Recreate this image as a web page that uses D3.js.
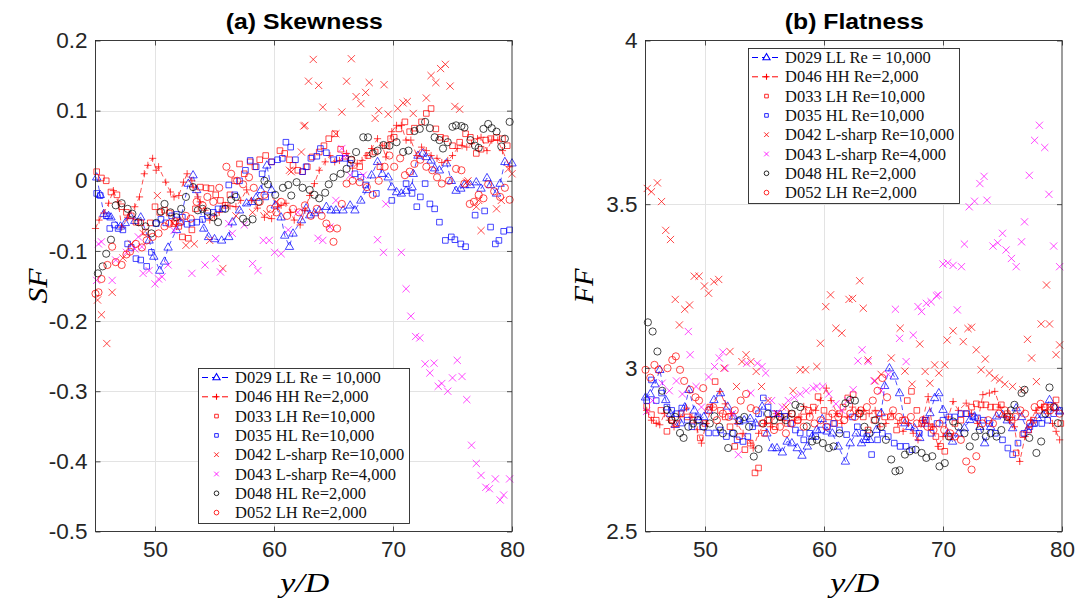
<!DOCTYPE html>
<html>
<head>
<meta charset="utf-8">
<script src="https://cdn.jsdelivr.net/npm/d3@7"></script>
<style>
  body { margin: 0; background: #fff; }
  svg { display: block; }
</style>
</head>
<body>
<svg id="fig" width="1079" height="606"></svg>
<script>
// ---- data -------------------------------------------------------------
const yDDomain = [45, 80];
const yDTicks = [50, 60, 70, 80];
const skewDomain = [-0.5, 0.2];
const skewTicks = [-0.5, -0.4, -0.3, -0.2, -0.1, 0, 0.1, 0.2];
const flatDomain = [2.5, 4];
const flatTicks = [2.5, 3, 3.5, 4];

const runLabels = [
  "D029 LL Re = 10,000",
  "D046 HH Re=2,000",
  "D033 LH Re=10,000",
  "D035 HL Re=10,000",
  "D042 L-sharp Re=10,000",
  "D043 L-sharp Re=4,000",
  "D048 HL Re=2,000",
  "D052 LH Re=2,000"
];

// skewness SF against y/D, one [y/D, SF] pair per station
const d029Skew = [[45.1,0.005],[45.4,-0.02],[45.7,-0.047],[46.1,-0.05],[46.3,-0.052],[47.1,-0.065],[47.5,-0.06],[47.9,-0.05],[48.3,-0.057],[48.8,-0.052],[49.5,-0.085],[49.9,-0.108],[50.4,-0.128],[50.8,-0.115],[51.1,-0.095],[51.8,-0.07],[52.1,-0.059],[52.8,-0.004],[53.2,0.008],[53.5,-0.013],[54.1,-0.068],[54.5,-0.08],[55.0,-0.083],[55.6,-0.085],[56.2,-0.08],[56.5,-0.059],[57.1,-0.042],[57.7,-0.032],[58.1,-0.03],[58.5,-0.024],[58.9,-0.013],[59.4,0.022],[59.8,-0.013],[60.1,-0.035],[60.6,-0.052],[60.9,-0.078],[61.3,-0.094],[61.6,-0.075],[62.3,-0.056],[62.7,-0.039],[63.0,-0.049],[63.4,-0.046],[63.8,-0.042],[64.4,-0.037],[64.8,-0.042],[65.2,-0.042],[65.8,-0.042],[66.4,-0.035],[66.8,-0.042],[67.3,-0.028],[67.8,-0.013],[68.2,0.008],[68.7,0.027],[69.1,0.01],[69.6,0.005],[69.9,-0.009],[70.3,-0.016],[70.7,-0.018],[71.1,-0.014],[71.6,-0.009],[71.7,0.01],[72.1,0.036],[72.5,0.039],[72.8,0.034],[73.2,0.029],[73.5,0.018],[73.9,0.015],[74.5,0.025],[74.9,0.0],[75.3,-0.014],[75.7,-0.011],[76.0,-0.006],[76.5,-0.006],[77.0,-0.002],[77.4,-0.011],[77.9,0.004],[78.2,-0.006],[78.7,-0.018],[79.0,-0.004],[79.4,0.027],[80.0,0.025]];
const d046Skew = [[45.0,-0.068],[45.3,-0.056],[45.7,-0.046],[46.1,-0.032],[46.5,-0.014],[46.9,-0.03],[47.2,-0.066],[47.7,-0.052],[48.3,-0.037],[48.7,-0.023],[49.1,0.01],[49.4,0.022],[49.8,0.032],[50.1,0.015],[50.3,0.02],[50.9,-0.002],[51.3,-0.016],[51.6,-0.023],[52.0,-0.021],[52.4,-0.002],[52.7,0.01],[53.1,0.0],[53.2,-0.009],[53.6,-0.023],[53.8,-0.03],[54.2,-0.042],[54.6,-0.056],[55.0,-0.05],[55.4,-0.045],[55.9,-0.035],[56.3,-0.036],[56.8,-0.037],[57.2,-0.028],[57.7,-0.013],[58.1,-0.028],[58.6,-0.039],[59.2,-0.052],[59.8,-0.054],[60.3,-0.037],[60.6,-0.035],[61.0,-0.032],[61.4,-0.045],[61.7,-0.056],[62.2,-0.063],[62.6,-0.042],[63.0,-0.021],[63.4,-0.004],[63.8,0.015],[64.3,0.027],[64.7,0.036],[65.1,0.027],[65.5,0.029],[66.1,0.039],[66.6,0.018],[67.0,0.025],[67.4,0.029],[67.8,0.036],[68.2,0.046],[68.7,0.06],[69.1,0.05],[69.4,0.034],[69.9,0.07],[70.3,0.079],[70.7,0.079],[71.1,0.058],[71.5,0.058],[72.0,0.036],[72.4,0.048],[72.8,0.043],[73.2,0.036],[73.7,0.032],[74.1,0.026],[74.6,0.029],[75.0,0.036],[75.4,0.046],[75.8,0.05],[76.2,0.048],[76.6,0.053],[77.1,0.06],[77.4,0.062],[77.9,0.043],[78.3,0.058],[78.8,0.058],[79.2,0.043],[79.8,0.02]];
const d033Skew = [[45.1,0.013],[45.5,0.004],[45.9,0.0],[46.3,-0.016],[46.8,-0.02],[47.2,-0.037],[47.6,-0.045],[48.0,-0.05],[48.4,-0.059],[48.8,-0.06],[49.2,-0.073],[49.6,-0.06],[50.0,-0.037],[50.4,-0.045],[50.8,-0.042],[51.2,-0.046],[51.6,-0.061],[52.0,-0.065],[52.3,-0.08],[52.8,-0.082],[53.1,-0.07],[53.4,-0.04],[53.8,-0.009],[54.3,-0.01],[54.7,-0.011],[55.1,-0.02],[55.5,-0.028],[55.9,-0.035],[56.3,-0.02],[56.7,0.0],[57.1,0.024],[57.5,0.01],[58.0,0.027],[58.4,0.02],[58.8,0.03],[59.3,0.036],[59.8,0.027],[60.5,0.043],[60.9,0.039],[61.3,0.03],[61.6,0.022],[62.0,0.015],[62.4,0.013],[62.8,0.02],[63.2,0.034],[63.8,0.041],[64.2,0.05],[64.6,0.06],[65.1,0.067],[65.6,0.045],[66.0,0.035],[66.5,0.03],[67.2,0.02],[67.9,0.036],[68.5,0.041],[68.9,0.02],[69.5,0.05],[69.8,0.06],[70.1,0.062],[70.5,0.074],[71.0,0.084],[71.4,0.07],[71.8,0.075],[72.4,0.084],[72.8,0.096],[73.2,0.103],[73.6,0.074],[74.0,0.062],[74.4,0.06],[75.0,0.05],[75.6,0.055],[76.1,0.067],[76.5,0.062],[77.0,0.039],[77.4,0.045],[77.8,0.058],[78.2,0.06],[78.7,0.062],[79.2,0.06],[79.6,0.05]];
const d035Skew = [[45.1,-0.018],[45.4,-0.021],[45.9,-0.05],[46.2,-0.068],[46.6,-0.063],[46.9,-0.068],[47.3,-0.07],[47.7,-0.09],[48.0,-0.095],[48.4,-0.111],[48.8,-0.113],[49.3,-0.122],[49.7,-0.102],[50.1,-0.061],[50.5,-0.055],[50.9,-0.06],[51.4,-0.05],[51.8,-0.048],[52.3,-0.052],[52.7,-0.062],[53.1,-0.06],[53.5,-0.059],[54.0,-0.055],[54.4,-0.05],[54.9,-0.045],[55.3,-0.04],[55.7,-0.04],[56.2,-0.006],[56.7,-0.02],[57.1,0.0],[57.6,0.015],[58.0,0.029],[58.5,0.02],[59.0,0.01],[59.3,-0.023],[59.8,0.027],[60.3,0.03],[60.7,0.032],[61.0,0.055],[61.4,0.048],[61.8,0.03],[62.4,0.013],[62.7,0.02],[63.1,0.032],[63.6,0.035],[63.9,0.046],[64.4,0.04],[65.0,0.03],[65.5,0.032],[66.0,0.032],[66.4,0.025],[66.8,0.01],[67.3,0.005],[67.7,-0.006],[68.6,-0.018],[69.9,-0.028],[71.1,-0.004],[71.6,-0.018],[72.0,-0.037],[72.3,-0.023],[72.7,-0.004],[73.1,-0.033],[73.5,-0.04],[73.9,-0.059],[74.4,-0.085],[74.9,-0.08],[75.2,-0.084],[75.7,-0.09],[76.1,-0.094],[76.9,-0.049],[77.7,-0.043],[78.2,-0.066],[78.6,-0.09],[78.9,-0.085],[79.3,-0.072],[79.8,-0.07]];
const d042Skew = [[45.17,-0.17],[45.5,-0.191],[45.95,-0.232],[46.4,-0.159],[47.3,-0.11],[48.0,-0.09],[49.0,-0.075],[50.2,-0.021],[51.5,-0.06],[52.6,-0.092],[53.3,-0.09],[54.6,-0.085],[55.7,-0.125],[56.8,-0.05],[58.2,-0.045],[59.4,-0.047],[60.2,-0.03],[61.3,0.015],[61.45,0.013],[62.3,0.041],[62.5,0.078],[62.6,0.079],[62.9,0.142],[63.3,0.173],[63.75,0.136],[64.1,0.105],[65.2,0.067],[65.7,0.098],[66.1,0.142],[66.5,0.174],[66.9,0.12],[67.3,0.11],[67.7,0.126],[68.0,0.14],[68.5,0.089],[68.8,0.1],[69.25,0.137],[69.6,0.095],[70.4,0.103],[70.85,0.111],[71.2,0.113],[71.7,0.096],[72.8,0.118],[73.2,0.15],[73.6,0.14],[74.0,0.16],[74.4,0.166],[74.8,0.135],[75.2,0.106],[75.6,0.102],[76.2,-0.002],[76.3,0.0],[77.0,-0.037],[77.2,-0.028],[77.4,-0.071],[78.7,-0.04],[79.1,-0.028],[79.7,0.017],[80.0,0.01]];
const d043Skew = [[45.1,-0.142],[45.25,-0.09],[45.5,-0.087],[46.4,-0.142],[46.7,-0.113],[47.6,-0.102],[48.3,-0.097],[48.6,-0.08],[48.9,-0.094],[49.0,-0.132],[49.5,-0.128],[50.0,-0.147],[50.3,-0.14],[50.6,-0.137],[51.1,-0.12],[51.6,-0.071],[53.1,-0.132],[54.2,-0.12],[55.1,-0.111],[55.5,-0.13],[56.2,-0.061],[56.5,-0.075],[57.5,-0.063],[58.2,-0.118],[58.65,-0.128],[59.1,-0.085],[59.6,-0.085],[60.05,-0.102],[60.6,-0.104],[61.2,-0.07],[62.0,-0.045],[63.7,-0.082],[64.1,-0.085],[64.7,-0.066],[65.2,-0.028],[65.7,0.046],[65.9,0.035],[66.4,0.008],[67.5,0.008],[68.7,-0.084],[69.2,-0.102],[69.4,-0.033],[70.7,-0.102],[71.1,-0.154],[71.5,-0.193],[71.9,-0.222],[72.25,-0.224],[72.7,-0.261],[73.1,-0.274],[73.45,-0.26],[73.8,-0.293],[74.1,-0.289],[74.6,-0.3],[75.0,-0.281],[75.4,-0.256],[75.8,-0.279],[76.2,-0.312],[76.6,-0.377],[77.0,-0.403],[77.4,-0.42],[77.8,-0.437],[78.1,-0.439],[78.6,-0.425],[79.0,-0.455],[79.3,-0.448],[79.8,-0.425]];
const d048Skew = [[45.2,-0.132],[45.6,-0.122],[45.9,-0.104],[46.3,-0.084],[46.7,-0.035],[47.2,-0.032],[47.7,-0.04],[48.1,-0.047],[48.6,-0.059],[49.2,-0.065],[49.7,-0.075],[50.1,-0.06],[50.5,-0.044],[50.8,-0.033],[51.3,-0.045],[51.8,-0.052],[52.2,-0.04],[52.6,-0.023],[53.2,-0.009],[53.6,-0.042],[54.0,-0.04],[54.4,-0.044],[54.9,-0.052],[55.3,-0.059],[55.9,-0.04],[56.4,-0.027],[56.8,-0.023],[57.4,-0.054],[57.7,-0.059],[58.2,-0.055],[58.7,-0.03],[59.2,0.0],[59.5,-0.005],[60.1,-0.02],[60.75,-0.01],[61.2,-0.006],[61.45,-0.021],[61.9,-0.002],[62.4,-0.01],[63.0,-0.013],[63.4,-0.02],[63.8,-0.025],[64.3,-0.017],[64.6,-0.005],[65.0,0.005],[65.6,0.01],[66.1,0.017],[66.5,0.03],[66.9,0.041],[67.5,0.062],[67.9,0.062],[68.3,0.039],[68.7,0.043],[69.2,0.051],[69.7,0.05],[70.3,0.055],[70.85,0.041],[71.3,0.043],[71.8,0.071],[72.25,0.074],[72.7,0.084],[73.1,0.075],[73.5,0.062],[73.9,0.058],[74.2,0.046],[74.6,0.055],[75.0,0.077],[75.3,0.079],[75.75,0.078],[76.0,0.076],[76.5,0.058],[76.9,0.05],[77.2,0.047],[77.6,0.074],[78.0,0.081],[78.3,0.075],[78.7,0.07],[79.1,0.049],[79.4,0.06],[79.8,0.084]];
const d052Skew = [[45.0,-0.161],[45.25,-0.159],[45.5,-0.14],[46.0,-0.12],[46.4,-0.094],[46.7,-0.116],[47.2,-0.12],[47.6,-0.105],[47.9,-0.101],[48.4,-0.09],[48.9,-0.095],[49.3,-0.085],[49.8,-0.08],[50.3,-0.075],[50.8,-0.065],[51.2,-0.061],[51.7,-0.058],[52.1,-0.059],[52.6,-0.05],[53.0,-0.054],[53.5,-0.03],[54.0,-0.035],[54.4,-0.023],[54.9,-0.03],[55.4,-0.01],[56.0,0.02],[56.4,0.01],[56.9,0.0],[57.4,-0.005],[57.9,0.005],[58.3,-0.01],[58.8,-0.03],[59.2,-0.02],[59.7,-0.04],[60.2,-0.045],[60.6,-0.03],[61.1,-0.05],[61.6,-0.04],[62.1,-0.045],[62.6,-0.035],[63.1,-0.05],[63.6,-0.04],[64.0,-0.05],[64.4,-0.061],[64.7,-0.068],[65.0,-0.087],[65.3,-0.068],[65.7,-0.033],[66.1,-0.004],[66.6,0.0],[67.2,-0.002],[67.8,-0.009],[68.3,-0.02],[68.8,0.0],[69.3,0.02],[69.7,0.036],[70.1,0.02],[70.6,0.032],[71.0,0.008],[71.4,0.013],[71.8,0.024],[72.3,0.03],[72.8,0.02],[73.3,0.015],[73.7,0.005],[74.1,-0.004],[74.7,0.0],[75.3,0.017],[75.75,0.015],[76.0,-0.004],[76.45,-0.033],[76.8,-0.03],[77.2,-0.02],[77.6,-0.025],[78.0,-0.005],[78.5,-0.015],[79.0,-0.023],[79.4,-0.01],[79.8,-0.027]];

// flatness FF against y/D
const d029Flat = [[45.0,2.91],[45.4,2.92],[45.8,2.95],[46.2,2.994],[46.7,2.902],[47.1,2.86],[47.5,2.826],[47.95,2.831],[48.3,2.88],[48.65,2.933],[49.1,2.87],[49.5,2.841],[49.9,2.85],[50.3,2.87],[50.75,2.902],[51.3,2.923],[51.9,2.882],[52.4,2.852],[52.85,2.836],[53.3,2.84],[53.8,2.845],[54.25,2.831],[54.8,2.882],[55.2,2.8],[55.65,2.755],[56.05,2.755],[56.5,2.742],[56.9,2.775],[57.3,2.77],[57.75,2.755],[58.15,2.732],[58.6,2.76],[59.0,2.79],[59.4,2.811],[59.85,2.844],[60.25,2.806],[60.7,2.8],[61.2,2.76],[61.8,2.714],[62.2,2.77],[62.7,2.8],[63.15,2.77],[63.5,2.78],[63.85,2.78],[64.4,2.811],[64.8,2.862],[65.1,2.945],[65.5,2.999],[65.9,2.974],[66.35,2.923],[66.8,2.831],[67.2,2.82],[67.6,2.816],[68.05,2.786],[68.5,2.83],[68.9,2.862],[69.3,2.908],[69.65,2.923],[70.0,2.872],[70.4,2.8],[70.8,2.775],[71.3,2.8],[71.8,2.816],[72.25,2.841],[72.65,2.852],[73.1,2.82],[73.5,2.77],[74.0,2.82],[74.5,2.852],[75.0,2.857],[75.4,2.84],[75.85,2.816],[76.15,2.877],[76.6,2.85],[77.1,2.811],[77.5,2.83],[77.95,2.847],[78.4,2.857],[78.95,2.902],[79.4,2.88],[79.8,2.867]];
const d046Flat = [[45.1,2.87],[45.5,2.84],[45.9,2.83],[46.2,2.826],[46.6,2.86],[47.0,2.84],[47.4,2.82],[47.9,2.85],[48.45,2.877],[48.9,2.85],[49.35,2.811],[49.7,2.77],[50.1,2.83],[50.6,2.88],[51.25,2.928],[51.7,2.89],[52.2,2.86],[52.7,2.83],[53.2,2.8],[53.85,2.77],[54.05,2.755],[54.5,2.8],[55.0,2.83],[55.5,2.82],[56.0,2.86],[56.5,2.84],[57.0,2.86],[57.5,2.84],[57.9,2.85],[58.3,2.882],[58.8,2.86],[59.3,2.87],[59.7,2.9],[60.2,2.938],[60.6,2.9],[61.1,2.86],[61.5,2.83],[62.0,2.85],[62.4,2.88],[62.9,2.87],[63.3,2.87],[63.8,2.86],[64.3,2.87],[64.7,2.82],[65.2,2.83],[65.7,2.86],[66.2,2.83],[66.65,2.806],[67.1,2.83],[67.5,2.8],[67.9,2.78],[68.3,2.84],[68.75,2.912],[69.1,2.82],[69.6,2.76],[70.0,2.79],[70.45,2.85],[70.85,2.897],[71.3,2.87],[71.95,2.892],[72.4,2.86],[72.9,2.83],[73.35,2.918],[73.9,2.923],[74.35,2.928],[74.8,2.88],[75.2,2.85],[75.6,2.84],[76.0,2.82],[76.45,2.714],[76.9,2.79],[77.4,2.84],[77.8,2.87],[78.3,2.88],[78.8,2.86],[79.2,2.83],[79.5,2.806],[79.8,2.78]];
const d033Flat = [[45.1,2.882],[45.5,2.857],[45.9,2.84],[46.3,2.87],[46.8,2.806],[47.2,2.84],[47.6,2.83],[48.0,2.86],[48.5,2.85],[49.0,2.84],[49.6,2.786],[50.0,2.83],[50.4,2.88],[50.85,2.958],[51.3,2.87],[51.7,2.85],[52.1,2.82],[52.5,2.76],[52.9,2.79],[53.35,2.75],[53.8,2.77],[54.2,2.679],[54.5,2.694],[55.0,2.8],[55.4,2.84],[55.9,2.82],[56.4,2.85],[56.9,2.83],[57.3,2.86],[57.8,2.84],[58.3,2.85],[58.7,2.87],[59.1,2.88],[59.5,2.912],[60.0,2.87],[60.4,2.85],[60.9,2.83],[61.3,2.86],[61.6,2.88],[62.0,2.908],[62.45,2.918],[62.9,2.86],[63.3,2.85],[63.7,2.81],[64.2,2.84],[64.6,2.86],[65.1,2.85],[65.6,2.85],[66.1,2.81],[66.6,2.84],[67.0,2.9],[67.35,2.928],[67.8,2.87],[68.2,2.83],[68.6,2.84],[69.0,2.82],[69.4,2.79],[69.8,2.76],[70.15,2.745],[70.6,2.79],[71.0,2.83],[71.5,2.84],[71.9,2.86],[72.4,2.88],[72.8,2.89],[73.2,2.887],[73.6,2.887],[74.0,2.88],[74.4,2.88],[74.9,2.887],[75.4,2.86],[75.8,2.84],[76.15,2.74],[76.7,2.796],[77.2,2.81],[77.6,2.84],[78.1,2.87],[78.5,2.88],[79.0,2.88],[79.5,2.902],[79.9,2.83]];
const d035Flat = [[45.1,2.9],[45.5,2.963],[45.9,2.9],[46.35,2.923],[46.8,2.88],[47.2,2.87],[47.6,2.86],[48.05,2.877],[48.5,2.84],[48.9,2.82],[49.4,2.85],[49.8,2.82],[50.3,2.801],[50.9,2.801],[51.3,2.81],[51.8,2.79],[52.3,2.8],[52.7,2.78],[53.2,2.775],[53.6,2.79],[54.0,2.82],[54.5,2.86],[54.9,2.908],[55.3,2.88],[55.7,2.86],[56.2,2.86],[56.7,2.852],[57.2,2.83],[57.6,2.81],[58.0,2.801],[58.3,2.78],[58.8,2.8],[59.3,2.79],[59.8,2.81],[60.3,2.82],[60.8,2.83],[61.3,2.81],[61.9,2.796],[62.4,2.85],[62.8,2.82],[63.3,2.8],[63.6,2.79],[64.0,2.735],[64.5,2.78],[64.9,2.8],[65.4,2.79],[65.9,2.77],[66.4,2.76],[66.9,2.76],[67.4,2.75],[68.0,2.8],[68.5,2.84],[69.0,2.8],[69.5,2.83],[70.0,2.84],[70.5,2.85],[71.0,2.85],[71.5,2.86],[72.0,2.86],[72.5,2.85],[72.9,2.847],[73.4,2.84],[73.9,2.83],[74.4,2.8],[75.0,2.78],[75.45,2.755],[75.85,2.735],[76.3,2.77],[76.8,2.8],[77.3,2.82],[77.7,2.83],[78.3,2.83],[78.8,2.84],[79.3,2.86],[79.8,2.87]];
const d042Flat = [[45.15,3.548],[45.5,3.538],[46.0,3.565],[46.35,3.508],[46.7,3.42],[47.1,3.392],[47.5,3.209],[47.85,3.131],[48.3,3.179],[48.7,3.192],[49.1,3.28],[49.5,3.28],[49.95,3.25],[50.3,3.228],[50.75,3.263],[51.15,3.27],[51.6,2.999],[52.1,3.05],[52.65,2.943],[53.1,3.019],[53.45,3.04],[53.85,3.019],[54.3,2.989],[54.75,2.943],[55.3,2.9],[56.1,2.86],[56.8,2.88],[57.4,2.93],[58.0,2.994],[58.45,2.994],[59.4,3.004],[59.7,3.075],[60.15,3.187],[60.55,3.223],[61.0,3.121],[61.5,3.106],[62.1,3.209],[62.4,3.212],[63.0,3.266],[63.3,3.182],[63.7,3.024],[64.3,2.96],[64.8,2.98],[65.65,3.03],[66.4,3.121],[66.8,2.99],[67.4,2.95],[68.05,3.073],[68.5,2.989],[68.9,2.953],[69.3,3.009],[69.65,2.984],[70.15,3.009],[70.35,3.085],[70.85,3.113],[71.7,3.08],[72.1,3.12],[72.4,3.124],[72.8,3.055],[73.2,2.994],[73.55,3.027],[73.9,2.984],[74.35,2.969],[74.75,2.963],[75.2,2.95],[75.85,2.943],[76.7,2.933],[77.1,3.087],[77.45,3.03],[77.85,2.958],[78.25,3.134],[78.7,3.253],[78.95,3.134],[79.5,3.04],[79.8,3.07]];
const d043Flat = [[45.1,2.867],[45.6,2.9],[46.4,2.953],[47.0,2.93],[47.6,2.96],[48.1,2.92],[48.6,3.111],[48.75,3.04],[49.25,2.943],[49.7,2.88],[50.3,2.972],[50.8,3.004],[51.2,3.03],[51.5,3.048],[51.7,2.999],[52.3,2.86],[52.8,2.735],[53.5,3.014],[53.85,2.923],[54.4,3.014],[54.8,3.004],[55.1,2.984],[55.6,2.9],[56.0,2.86],[56.5,2.88],[57.0,2.9],[57.5,2.91],[58.0,2.92],[58.5,2.93],[59.1,2.938],[59.4,2.943],[59.9,2.943],[60.4,2.92],[61.0,2.89],[61.5,2.87],[62.0,2.9],[62.45,2.933],[62.85,3.021],[63.2,3.055],[63.7,3.019],[64.2,2.96],[64.8,2.93],[65.4,2.98],[66.0,3.179],[66.35,3.09],[66.9,3.019],[67.5,3.1],[67.9,3.187],[68.2,3.172],[68.6,3.197],[69.0,3.202],[69.45,3.22],[69.6,3.223],[70.0,3.317],[70.4,3.321],[70.85,3.313],[71.2,3.177],[71.55,3.309],[71.8,3.378],[72.2,3.492],[72.65,3.509],[73.1,3.563],[73.45,3.585],[73.7,3.512],[74.2,3.372],[74.6,3.382],[75.0,3.411],[75.3,3.36],[75.75,3.334],[76.15,3.309],[76.6,3.385],[76.85,3.446],[77.25,3.588],[77.7,3.695],[78.1,3.741],[78.55,3.673],[78.9,3.53],[79.3,3.372],[79.8,3.309]];
const d048Flat = [[45.2,3.139],[45.6,3.111],[46.0,3.05],[46.4,2.93],[46.8,2.872],[47.2,2.84],[47.5,2.85],[47.9,2.801],[48.2,2.786],[48.6,2.82],[49.0,2.83],[49.4,2.84],[49.9,2.82],[50.4,2.83],[50.8,2.852],[51.2,2.82],[51.5,2.8],[51.95,2.755],[52.4,2.8],[52.9,2.84],[53.3,2.85],[53.7,2.82],[54.1,2.729],[54.5,2.752],[54.9,2.83],[55.3,2.86],[55.8,2.84],[56.3,2.85],[56.8,2.84],[57.3,2.86],[57.6,2.887],[58.0,2.88],[58.55,2.821],[59.0,2.775],[59.4,2.78],[59.9,2.77],[60.4,2.755],[60.8,2.76],[61.3,2.8],[61.8,2.892],[62.2,2.902],[62.6,2.9],[63.0,2.86],[63.4,2.82],[63.8,2.8],[64.3,2.84],[64.8,2.82],[65.2,2.78],[65.65,2.72],[66.0,2.684],[66.35,2.687],[66.8,2.735],[67.2,2.745],[67.7,2.75],[68.2,2.74],[68.6,2.725],[69.1,2.73],[69.7,2.699],[70.15,2.709],[70.5,2.79],[70.85,2.836],[71.3,2.82],[71.8,2.8],[72.25,2.76],[72.7,2.79],[73.1,2.81],[73.6,2.79],[74.0,2.8],[74.5,2.79],[74.9,2.81],[75.4,2.85],[75.7,2.87],[76.0,2.887],[76.6,2.923],[76.85,2.933],[77.25,2.786],[77.85,2.74],[78.25,2.775],[78.6,2.86],[78.95,2.94],[79.3,2.88],[79.65,2.831]];
const d052Flat = [[45.0,2.994],[45.4,2.97],[45.75,3.009],[46.1,2.994],[46.85,2.999],[47.25,3.024],[47.55,3.035],[47.9,2.994],[48.25,2.96],[48.75,2.933],[49.2,2.91],[49.5,2.9],[49.85,2.938],[50.3,2.87],[50.7,2.88],[51.0,2.84],[51.5,2.86],[52.0,2.85],[52.5,2.87],[53.0,2.9],[53.45,2.92],[53.85,2.877],[54.3,2.87],[54.8,2.83],[55.3,2.84],[55.8,2.81],[56.3,2.82],[56.8,2.8],[57.3,2.83],[57.8,2.84],[58.3,2.82],[58.8,2.85],[59.2,2.83],[59.7,2.84],[60.2,2.82],[60.7,2.86],[61.2,2.85],[61.7,2.84],[62.2,2.86],[62.6,2.85],[63.1,2.87],[63.6,2.88],[64.1,2.9],[64.5,2.93],[64.9,2.969],[65.3,2.91],[65.8,2.87],[66.3,2.85],[66.8,2.84],[67.3,2.85],[67.8,2.83],[68.3,2.84],[68.7,2.82],[69.2,2.81],[69.7,2.83],[70.1,2.81],[70.6,2.8],[71.0,2.79],[71.5,2.78],[71.95,2.714],[72.4,2.689],[72.8,2.73],[73.3,2.83],[73.8,2.84],[74.2,2.83],[74.7,2.86],[75.2,2.87],[75.6,2.85],[76.1,2.85],[76.5,2.87],[76.9,2.86],[77.3,2.83],[77.7,2.88],[78.2,2.89],[78.6,2.88],[79.0,2.87],[79.4,2.88],[79.8,2.86]];

// ---- styling of the eight runs (plot order = legend order) ------------
const runStyles = [
  { color: "#0000ff", marker: "triangle", dashed: true },
  { color: "#ff0000", marker: "plus",     dashed: true },
  { color: "#ff0000", marker: "square" },
  { color: "#0000ff", marker: "square" },
  { color: "#ff0000", marker: "cross" },
  { color: "#ff00ff", marker: "cross" },
  { color: "#000000", marker: "circle" },
  { color: "#ff0000", marker: "circle" }
];

const markerPaths = {
  triangle: "M0,-4.6L4.2,2.7L-4.2,2.7Z",
  plus: "M-3.6,0H3.6M0,-3.6V3.6",
  square: "M-2.8,-2.8H2.8V2.8H-2.8Z",
  cross: "M-3.6,-3.6L3.6,3.6M-3.6,3.6L3.6,-3.6",
  circle: "M3.6,0A3.6,3.6 0 1,1 -3.6,0A3.6,3.6 0 1,1 3.6,0Z"
};

const panels = [
  {
    title: "(a) Skewness", titleWidth: 157, ylab: "SF", ylabX: 38,
    left: 95.5, right: 512, top: 40.5, bottom: 531.5,
    yDomain: skewDomain, yTicks: skewTicks,
    runs: [d029Skew, d046Skew, d033Skew, d035Skew, d042Skew, d043Skew, d048Skew, d052Skew],
    legend: { x: 198, y: 368, w: 211, h: 155 }
  },
  {
    title: "(b) Flatness", titleWidth: 139, ylab: "FF", ylabX: 584,
    left: 645.5, right: 1062, top: 40.5, bottom: 531.5,
    yDomain: flatDomain, yTicks: flatTicks,
    runs: [d029Flat, d046Flat, d033Flat, d035Flat, d042Flat, d043Flat, d048Flat, d052Flat],
    legend: { x: 748, y: 48, w: 211, h: 155 }
  }
];

// ---- drawing ------------------------------------------------------------
const svg = d3.select("#fig");
const axisColor = "#262626";
const tickFont = "'Liberation Sans', Arial, Helvetica, sans-serif";
const mathFont = "'Liberation Serif', 'Times New Roman', serif";

panels.forEach(p => {
  const x = d3.scaleLinear().domain(yDDomain).range([p.left, p.right]);
  const y = d3.scaleLinear().domain(p.yDomain).range([p.bottom, p.top]);
  const w = p.right - p.left, h = p.bottom - p.top;
  const g = svg.append("g");

  // grid
  const grid = g.append("g").attr("stroke", "#e3e3e3").attr("stroke-width", 1);
  grid.selectAll("line.gx").data(yDTicks.filter(t => t > yDDomain[0] && t < yDDomain[1]))
    .join("line").attr("x1", d => Math.round(x(d)) + 0.5).attr("x2", d => Math.round(x(d)) + 0.5)
    .attr("y1", p.top).attr("y2", p.bottom);
  grid.selectAll("line.gy").data(p.yTicks.filter(t => t > p.yDomain[0] && t < p.yDomain[1]))
    .join("line").attr("y1", d => Math.round(y(d)) + 0.5).attr("y2", d => Math.round(y(d)) + 0.5)
    .attr("x1", p.left).attr("x2", p.right);

  // data
  p.runs.forEach((run, i) => {
    const st = runStyles[i];
    const sg = g.append("g").attr("stroke", st.color).attr("fill", "none");
    if (st.dashed) {
      sg.append("path")
        .attr("d", d3.line().x(d => x(d[0])).y(d => y(d[1]))(run))
        .attr("stroke-width", 0.8)
        .attr("stroke-dasharray", "5,3.5")
        .attr("stroke-opacity", 0.85);
    }
    sg.selectAll("path.m").data(run).join("path")
      .attr("class", "m")
      .attr("d", markerPaths[st.marker])
      .attr("transform", d => `translate(${x(d[0])},${y(d[1])})`)
      .attr("stroke-width", 0.9)
      .attr("stroke-opacity", 0.8);
  });

  // axes with inward ticks on all four sides
  const fmt = d => String(d);
  const axB = g.append("g").attr("transform", `translate(0,${p.bottom})`)
    .call(d3.axisBottom(x).tickValues(yDTicks).tickSizeInner(-5).tickSizeOuter(0).tickPadding(7).tickFormat(fmt));
  const axT = g.append("g").attr("transform", `translate(0,${p.top})`)
    .call(d3.axisTop(x).tickValues(yDTicks).tickSizeInner(-5).tickSizeOuter(0).tickFormat(""));
  const axL = g.append("g").attr("transform", `translate(${p.left},0)`)
    .call(d3.axisLeft(y).tickValues(p.yTicks).tickSizeInner(-5).tickSizeOuter(0).tickPadding(8).tickFormat(fmt));
  const axR = g.append("g").attr("transform", `translate(${p.right},0)`)
    .call(d3.axisRight(y).tickValues(p.yTicks).tickSizeInner(-5).tickSizeOuter(0).tickFormat(""));
  [axB, axT, axL, axR].forEach(a => {
    a.select(".domain").remove();
    a.selectAll("line").attr("stroke", axisColor).attr("stroke-width", 0.8);
    a.selectAll("text").attr("fill", axisColor).attr("font-family", tickFont).attr("font-size", 22.5);
  });
  axB.selectAll("text").attr("dy", "0.8em");

  g.append("rect").attr("x", p.left).attr("y", p.top).attr("width", w).attr("height", h)
    .attr("fill", "none").attr("stroke", axisColor).attr("stroke-width", 0.9);

  // title
  g.append("text").attr("x", (p.left + p.right) / 2 + 0.5).attr("y", 29)
    .attr("text-anchor", "middle").attr("font-family", tickFont)
    .attr("font-weight", "bold").attr("font-size", 22).attr("fill", "#000")
    .attr("textLength", p.titleWidth).attr("lengthAdjust", "spacingAndGlyphs")
    .text(p.title);

  // axis labels (math italic)
  g.append("text").attr("x", (p.left + p.right) / 2 + 1).attr("y", 592)
    .attr("text-anchor", "middle").attr("font-family", mathFont)
    .attr("font-style", "italic").attr("font-size", 27).attr("fill", "#000")
    .attr("textLength", 49).attr("lengthAdjust", "spacingAndGlyphs")
    .text("y/D");
  g.append("text")
    .attr("transform", `translate(${p.ylabX + 9},${(p.top + p.bottom) / 2}) rotate(-90)`)
    .attr("text-anchor", "middle").attr("font-family", mathFont)
    .attr("font-style", "italic").attr("font-size", 27).attr("fill", "#000")
    .attr("textLength", 35).attr("lengthAdjust", "spacingAndGlyphs")
    .text(p.ylab);

  // legend
  const L = p.legend;
  const lg = g.append("g");
  lg.append("rect").attr("x", L.x + 0.5).attr("y", L.y + 0.5).attr("width", L.w).attr("height", L.h)
    .attr("fill", "#fff").attr("stroke", axisColor).attr("stroke-width", 0.9);
  const rowH = 19.3, firstRow = L.y + 9.5;
  runLabels.forEach((lab, i) => {
    const st = runStyles[i];
    const cy = firstRow + i * rowH;
    const mx = L.x + 18.5;
    if (st.dashed) {
      lg.append("line").attr("x1", L.x + 3).attr("x2", L.x + 34).attr("y1", cy).attr("y2", cy)
        .attr("stroke", st.color).attr("stroke-width", 1).attr("stroke-dasharray", "6,4")
        .attr("stroke-dashoffset", -1);
    }
    const scale = st.dashed ? 0.85 : 0.65;
    lg.append("path").attr("d", markerPaths[st.marker])
      .attr("transform", `translate(${mx},${cy}) scale(${scale})`)
      .attr("fill", st.dashed ? "#fff" : "none")
      .attr("stroke", st.color).attr("stroke-width", 1.3);
    lg.append("text").attr("x", L.x + 37).attr("y", cy).attr("dy", "0.34em")
      .attr("font-family", mathFont).attr("font-size", 16.5).attr("fill", "#111")
      .text(lab);
  });
});
</script>
</body>
</html>
